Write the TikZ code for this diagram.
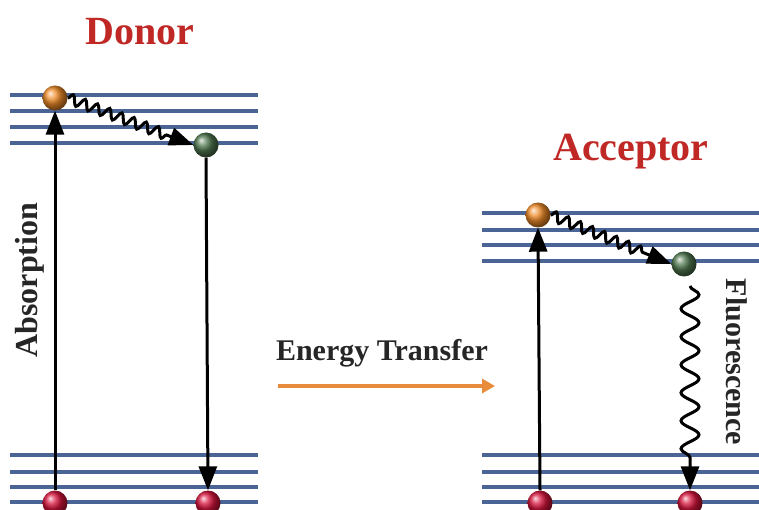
\documentclass[tikz,border=0pt]{standalone}
\usepackage{fontspec}
\setmainfont{Liberation Serif}
\usetikzlibrary{arrows.meta,decorations.pathmorphing}
\definecolor{lvl}{RGB}{74,100,150}
\definecolor{titlered}{RGB}{192,40,38}
\definecolor{etorange}{RGB}{232,140,60}
\definecolor{ballorange}{RGB}{240,140,40}
\definecolor{ballgreen}{RGB}{80,120,80}
\definecolor{ballred}{RGB}{215,20,60}
\begin{document}
\begin{tikzpicture}[x=1pt,y=-1pt,
  level/.style={draw=lvl,line width=3.6pt},
  ball/.style={circle,minimum size=25pt,inner sep=0pt,shading=ball},
  arr/.style={draw=black,line width=3pt,-{Triangle[length=24pt,width=18pt]}},
  wavy/.style={draw=black,line width=3pt,-{Triangle[length=24pt,width=18pt]},decorate},
  title/.style={font=\bfseries\fontsize{40}{40}\selectfont,text=titlered},
  lab/.style={font=\bfseries\fontsize{30}{30}\selectfont,text=black!85}]
\useasboundingbox[fill=white] (0,0) rectangle (759,510);
% energy levels
\foreach \y in {95,111,127,143} \draw[level] (10,\y) -- (258,\y);
\foreach \y in {455,472,487,502} \draw[level] (10,\y) -- (258,\y);
\foreach \y in {213,230,245,261} \draw[level] (482,\y) -- (759,\y);
\foreach \y in {455,472,487,502} \draw[level] (482,\y) -- (759,\y);
% balls
\node[ball,ball color=ballorange] (dex) at (55,98) {};
\node[ball,ball color=ballgreen] (dre) at (206,145) {};
\node[ball,ball color=ballred] (dg1) at (55,503) {};
\node[ball,ball color=ballred] (dg2) at (208,503) {};
\node[ball,ball color=ballorange] (aex) at (538,215) {};
\node[ball,ball color=ballgreen] (are) at (684,264) {};
\node[ball,ball color=ballred] (ag1) at (540,503) {};
\node[ball,ball color=ballred] (ag2) at (690,503) {};
% arrows
\draw[arr] (dg1.north) -- (dex.south);
\draw[arr] (dre.south) -- (dg2.north);
\draw[arr] (ag1.north) -- (aex.south);
\draw[wavy,decoration={snake,segment length=13pt,amplitude=5pt,post length=26pt}] (dex.east) -- (dre.west);
\draw[wavy,decoration={snake,segment length=13pt,amplitude=5pt,post length=26pt}] (aex.east) -- (are.west);
\coordinate (fl) at (690,286);
\draw[wavy,decoration={snake,segment length=28pt,amplitude=9pt,post length=28pt}] (fl) -- (ag2.north);
% texts
\node[title] (donor) at (140,32) {Donor};
\node[title] (acceptor) at (631,152) {Acceptor};
\node[lab,font=\bfseries\fontsize{32}{32}\selectfont,rotate=90] (abs) at (30,280) {Absorption};
\node[lab,rotate=-90] (flu) at (737,362) {Fluorescence};
\node[lab] (et) at (382,353) {Energy Transfer};
\coordinate (et1) at (278,386);
\coordinate (et2) at (495,386);
\draw[draw=etorange,line width=4.5pt,-{Triangle[length=13pt,width=14pt]}] (et1) -- (et2);
\end{tikzpicture}
\end{document}
